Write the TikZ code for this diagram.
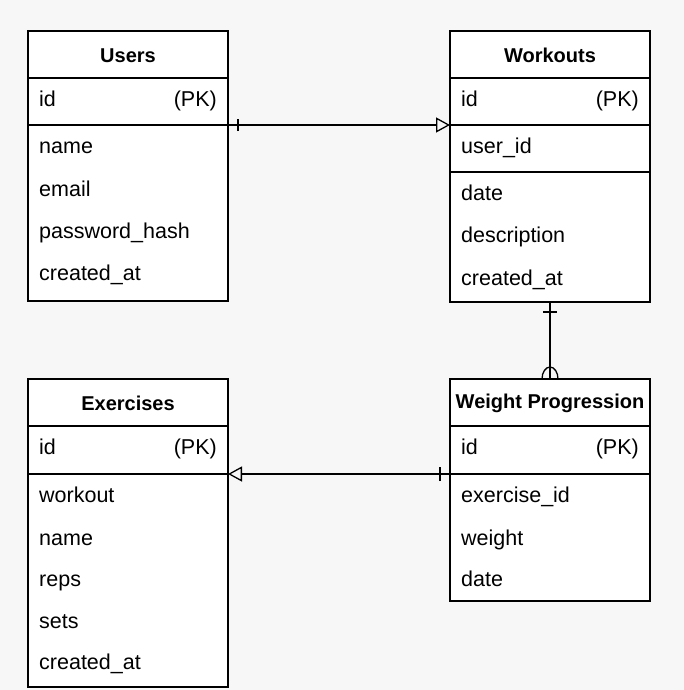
\documentclass[tikz,border=0pt]{standalone}
\usepackage{fontspec}
\setmainfont{Liberation Sans}
\usetikzlibrary{arrows.meta}
\definecolor{bg}{HTML}{F7F7F7}
\begin{document}
\begin{tikzpicture}[x=1pt,y=-1pt,
  box/.style={draw=black, line width=1.3pt, fill=white, minimum width=200pt, inner sep=0pt, outer sep=0pt},
  title/.style={font=\fontsize{20}{24}\selectfont\bfseries, anchor=center},
  field/.style={font=\fontsize{21.5}{25}\selectfont, anchor=mid west, inner sep=0pt},
  pk/.style={font=\fontsize{21.5}{25}\selectfont, anchor=mid east, inner sep=0pt},
  conn/.style={draw=black, line width=1.3pt},
  tick/.style={draw=black, line width=1.3pt},
  tip/.style={-{Triangle[open,length=14pt,width=15pt,line width=1.3pt]}}
]
\fill[bg] (0,0) rectangle (684,690);
\useasboundingbox (0,0) rectangle (684,690);

% ---------- Users ----------
\node[box, minimum height=47pt, anchor=north west] (uhead) at (28,31) {};
\node[box, minimum height=47pt, anchor=north west] (uid) at (28,78) {};
\node[box, minimum height=176pt, anchor=north west] (ubody) at (28,125) {};
\node[title] (uhead-t) at ([yshift=-1pt]uhead.center) {Users};
\node[field] (uid-t) at (39,104) {id};
\node[pk] (uid-pk) at (217,104) {(PK)};
\node[field] (u1) at (39,151) {name};
\node[field] (u2) at (39,194) {email};
\node[field] (u3) at (39,236) {password\_hash};
\node[field] (u4) at (39,278) {created\_at};

% ---------- Workouts ----------
\node[box, minimum height=47pt, anchor=north west] (whead) at (450,31) {};
\node[box, minimum height=47pt, anchor=north west] (wid) at (450,78) {};
\node[box, minimum height=47pt, anchor=north west] (wuid) at (450,125) {};
\node[box, minimum height=130pt, anchor=north west] (wbody) at (450,172) {};
\node[title] (whead-t) at ([yshift=-1pt]whead.center) {Workouts};
\node[field] (wid-t) at (461,104) {id};
\node[pk] (wid-pk) at (639,104) {(PK)};
\node[field] (wuid-t) at (461,151) {user\_id};
\node[field] (w1) at (461,198) {date};
\node[field] (w2) at (461,240) {description};
\node[field] (w3) at (461,283) {created\_at};

% ---------- Exercises ----------
\node[box, minimum height=47pt, anchor=north west] (ehead) at (28,379) {};
\node[box, minimum height=48pt, anchor=north west] (eid) at (28,426) {};
\node[box, minimum height=213pt, anchor=north west] (ebody) at (28,474) {};
\node[title] (ehead-t) at ([yshift=-1pt]ehead.center) {Exercises};
\node[field] (eid-t) at (39,452) {id};
\node[pk] (eid-pk) at (217,452) {(PK)};
\node[field] (e1) at (39,500) {workout};
\node[field] (e2) at (39,543) {name};
\node[field] (e3) at (39,584) {reps};
\node[field] (e4) at (39,626) {sets};
\node[field] (e5) at (39,667) {created\_at};

% ---------- Weight Progression ----------
\node[box, minimum height=47pt, anchor=north west] (phead) at (450,379) {};
\node[box, minimum height=48pt, anchor=north west] (pid) at (450,426) {};
\node[box, minimum height=127pt, anchor=north west] (pbody) at (450,474) {};
\node[title] (phead-t) at ([yshift=-1pt]phead.center) {Weight Progression};
\node[field] (pid-t) at (461,452) {id};
\node[pk] (pid-pk) at (639,452) {(PK)};
\node[field] (p1) at (461,500) {exercise\_id};
\node[field] (p2) at (461,543) {weight};
\node[field] (p3) at (461,584) {date};

% ---------- Connectors ----------
% Users -> Workouts
\draw[conn, tip] (uid.south east) -- (wid.south west);
\draw[tick] ([xshift=10pt,yshift=-6pt]uid.south east) -- ([xshift=10pt,yshift=6pt]uid.south east);

% Workouts -> Weight Progression
\draw[conn] (wbody.south) -- (phead.north);
\draw[tick] ([xshift=-7pt,yshift=-10pt]wbody.south) -- ([xshift=7pt,yshift=-10pt]wbody.south);
\draw[tick] ([xshift=-8pt]phead.north) arc[start angle=180, end angle=0, x radius=8pt, y radius=12pt];

% Weight Progression -> Exercises
\draw[conn, tip] (pid.south west) -- (eid.south east);
\draw[tick] ([xshift=-10pt,yshift=-7pt]pid.south west) -- ([xshift=-10pt,yshift=7pt]pid.south west);
\end{tikzpicture}
\end{document}
